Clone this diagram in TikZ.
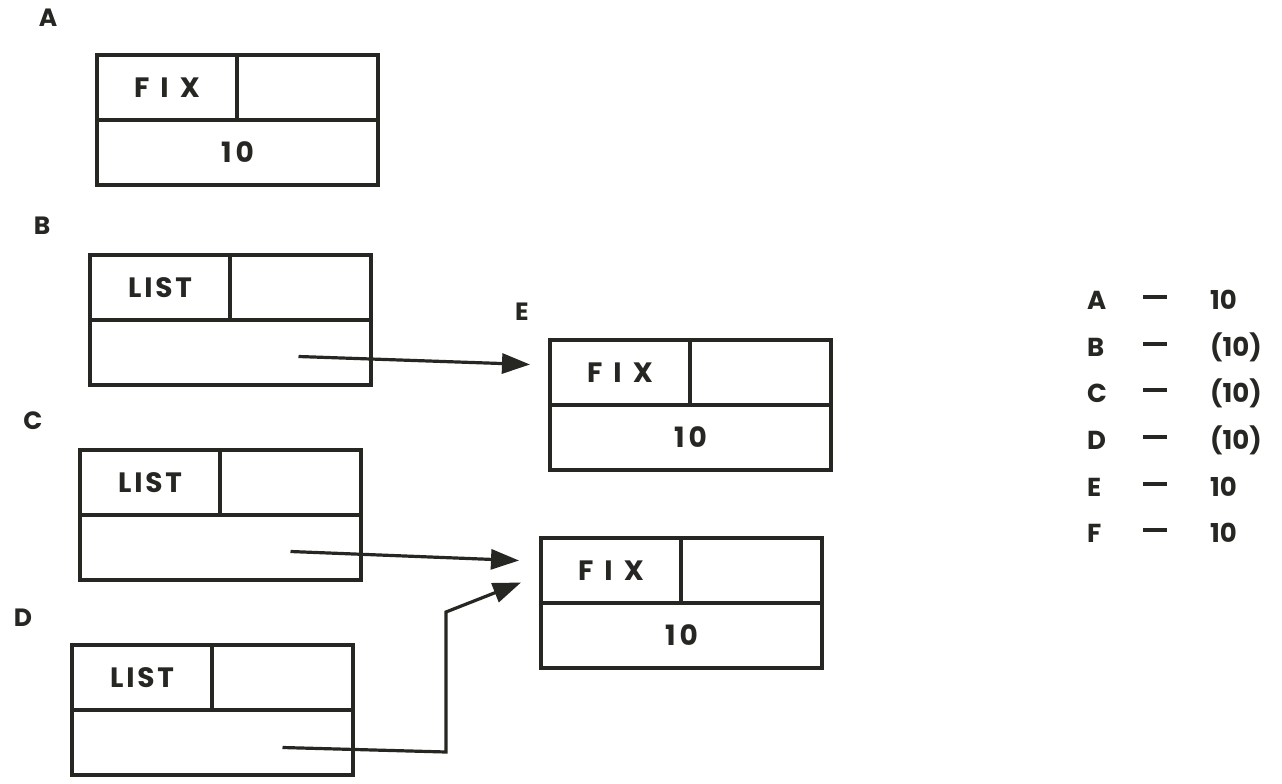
\documentclass[tikz,border=0pt]{standalone}
\usepackage{fontspec}
\setmainfont{Poppins}
\usetikzlibrary{arrows.meta}
\definecolor{ink}{HTML}{262622}
\tikzset{
  cell/.style={draw=ink, line width=3.6pt, rectangle, outer sep=0pt, inner sep=0pt,
    minimum height=65pt, anchor=north west, text=ink,
    font=\fontsize{28}{30}\selectfont\bfseries},
  lbl/.style={text=ink, font=\fontsize{25}{28}\selectfont\bfseries, inner sep=0pt},
  leg/.style={text=ink, font=\fontsize{26}{28}\selectfont\bfseries, inner sep=0pt, anchor=west},
  ptr/.style={draw=ink, line width=3.2pt, -{Triangle[length=28pt,width=20pt]}},
}
\newcommand\recbox[6]{% name, x, y, tag, value, letterspace
  \node[cell, minimum width=140pt] (#1-tag) at (#2,#3)
    {\addfontfeature{LetterSpace=#6}#4};
  \node[cell, minimum width=141pt] (#1-ptr) at (#1-tag.north east) {};
  \node[cell, minimum width=281pt] (#1-val) at (#1-tag.south west)
    {\addfontfeature{LetterSpace=15}#5};
}
\begin{document}
\begin{tikzpicture}[x=1pt,y=-1pt]
\useasboundingbox (0,0) rectangle (1282,784);
% boxes
\recbox{A}{97}{55}{FIX}{10}{40}
\recbox{B}{90}{255}{LIST}{}{10}
\recbox{C}{80}{450}{LIST}{}{10}
\recbox{D}{72}{645}{LIST}{}{10}
\recbox{E}{550}{340}{FIX}{10}{40}
\recbox{F}{541}{538}{FIX}{10}{40}
% labels
\node[lbl] (labA) at (48,18) {A};
\node[lbl] (labB) at (42,226) {B};
\node[lbl] (labC) at (33,421) {C};
\node[lbl] (labD) at (23,618) {D};
\node[lbl] (labE) at (522,312) {E};
% pointer start / end coordinates (yshift: positive = up)
\coordinate (Bs) at ([xshift=68pt,yshift=-4pt]B-val.center);
\coordinate (Be) at ([xshift=-20pt,yshift=8pt]E-tag.west);
\coordinate (Cs) at ([xshift=70pt,yshift=-4pt]C-val.center);
\coordinate (Ce) at ([xshift=-22pt,yshift=10pt]F-tag.west);
\coordinate (Ds) at ([xshift=70pt,yshift=-5pt]D-val.center);
\coordinate (Dc) at (446,752);
\coordinate (Dk) at (446,612);
\coordinate (De) at ([xshift=-20pt,yshift=-12pt]F-tag.west);
\draw[ptr] (Bs) -- (Be);
\draw[ptr] (Cs) -- (Ce);
\draw[ptr] (Ds) -- (Dc) -- (Dk) -- (De);
% legend
\foreach \l/\v/\y in {A/10/300, B/(10)/347, C/(10)/393, D/(10)/440, E/10/487, F/10/533}{
  \node[leg] (leg\l) at (1087,\y) {\l};
  \node[leg] (dash\l) at (1143,\y) {\rule[0.25em]{24pt}{3.5pt}};
  \node[leg] (val\l) at (1210,\y) {\v};
}
\end{tikzpicture}
\end{document}
